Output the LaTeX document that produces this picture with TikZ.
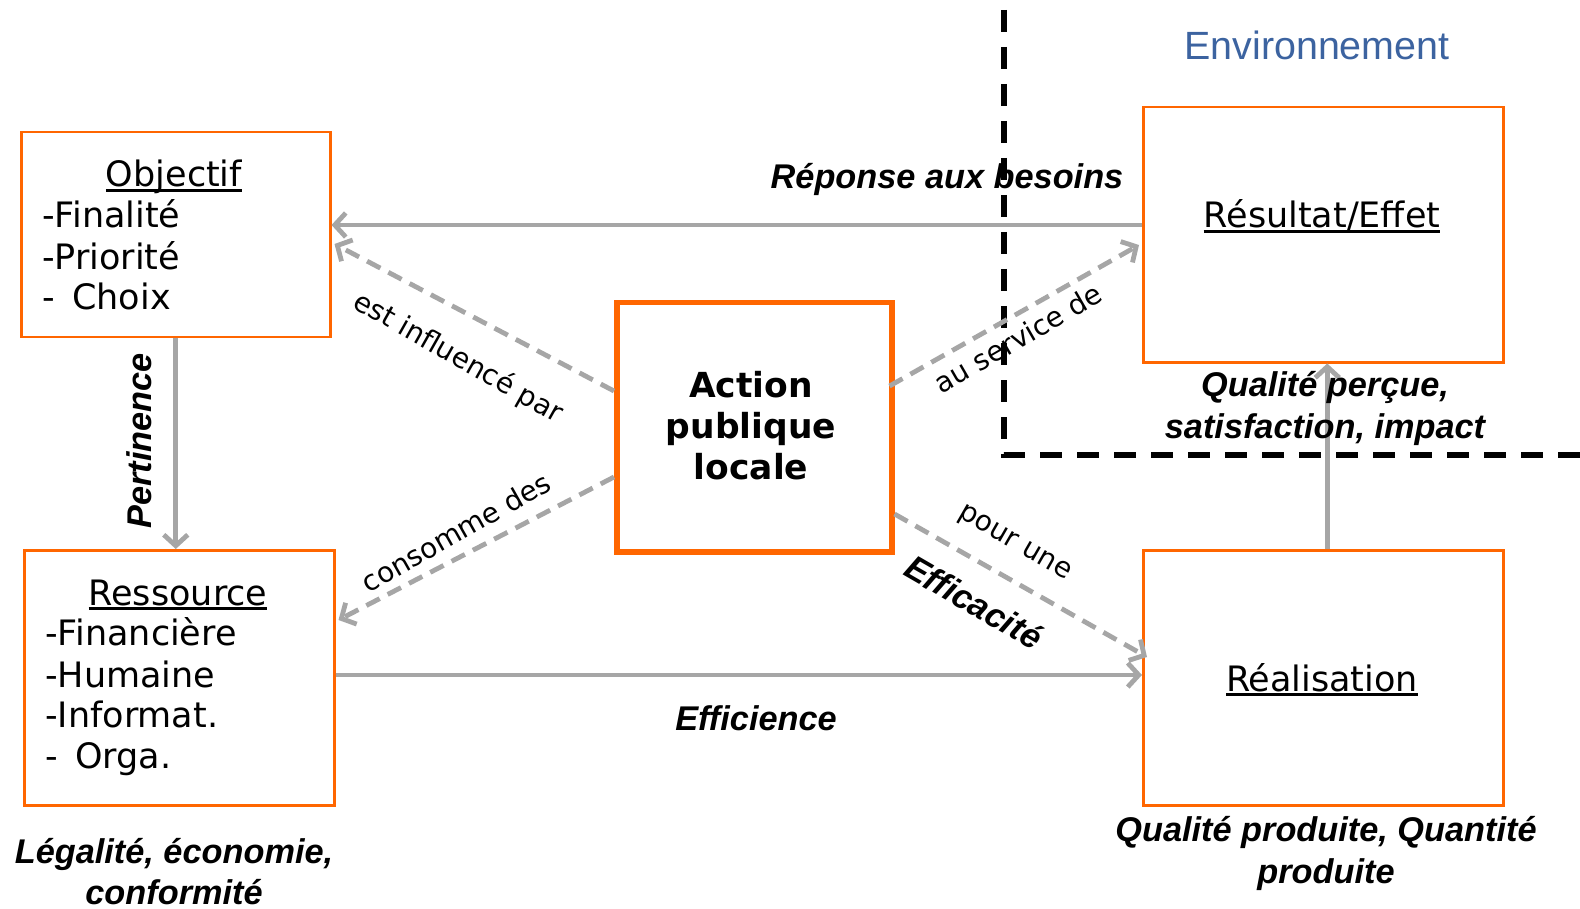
\documentclass[tikz,border=0pt]{standalone}
\usepackage{fontspec}
\setmainfont{DejaVu Sans}
\newfontfamily\arial{Liberation Sans}
\usetikzlibrary{arrows.meta}
\definecolor{orng}{RGB}{255,102,0}
\definecolor{gry}{RGB}{166,166,166}
\definecolor{envblue}{RGB}{60,99,160}
\newcommand\myul[1]{\setbox0\hbox{#1}\rlap{\rule[-0.13em]{\wd0}{0.065em}}\box0}
\begin{document}
\begin{tikzpicture}[x=1pt,y=-1pt,
  box/.style={draw=orng, line width=2.5pt, inner sep=0pt, anchor=north west},
  txt/.style={inner sep=0pt, anchor=base west, font=\fontsize{35}{40}\selectfont},
  ttl/.style={inner sep=0pt, anchor=base, font=\fontsize{35}{40}\selectfont},
  lbl/.style={inner sep=0pt, anchor=base, font=\arial\bfseries\itshape\fontsize{34.3}{40}\selectfont},
  rlbl/.style={inner sep=0pt, anchor=center, font=\fontsize{28}{33}\selectfont},
  arr/.style={draw=gry, line width=4.8pt, -{Straight Barb[length=11pt,width=24pt]}},
  darr/.style={arr, dash pattern=on 15pt off 9pt},
  env/.style={draw=black, line width=5.5pt, dash pattern=on 22pt off 15pt}
]
\useasboundingbox (0,0) rectangle (1580,909);

% boxes
\node[box, minimum width=309pt, minimum height=205pt] (obj) at (20,131) {};
\node[box, minimum width=310pt, minimum height=255pt] (ress) at (23,549) {};
\node[box, line width=5.5pt, minimum width=275pt, minimum height=249pt] (act) at (614,300) {};
\node[box, minimum width=360pt, minimum height=255pt] (res) at (1142,106) {};
\node[box, minimum width=360pt, minimum height=255pt] (rea) at (1142,549) {};

% environment boundary
\coordinate (e1) at (1004,10);
\coordinate (e2) at (1004,455);
\coordinate (e3) at (1580,455);
\draw[env] (e1) -- (e2) -- (e3);
\node[inner sep=0pt, anchor=base, font=\arial\fontsize{39.4}{45}\selectfont, text=envblue] (envt) at (1317,60) {Environnement};

% box texts
\node[ttl] (tobj) at (174,187) {\myul{Objectif}};
\node[txt] (o1) at (42,228) {-Finalité};
\node[txt] (o2) at (42,270) {-Priorité};
\node[txt] (o3) at (42,310) {-\hspace{0.5em}Choix};

\node[ttl] (tress) at (178,605) {\myul{Ressource}};
\node[txt] (r1) at (45,645) {-Financière};
\node[txt] (r2) at (45,687) {-Humaine};
\node[txt] (r3) at (45,727) {-Informat.};
\node[txt] (r4) at (45,768) {-\hspace{0.5em}Orga.};

\node[inner sep=0pt, align=center, font=\bfseries\fontsize{34.5}{41}\selectfont] (tact) at (751,426) {Action\\publique\\locale};

\node[ttl] (tres) at (1322,228) {\myul{Résultat/Effet}};
\node[ttl] (trea) at (1322,691) {\myul{Réalisation}};

% connectors
\draw[arr] (res.west |- 0,225) -- (obj.east |- 0,225);
\draw[arr] (obj.south) -- (obj.south |- ress.north);
\draw[arr] (ress.east |- 0,675) -- (rea.west |- 0,675);
\draw[arr] ([xshift=4pt]rea.north) -- ([xshift=4pt]res.south);
\draw[darr] (act.west |- 0,391) -- ([xshift=3pt]obj.east |- 0,244);
\draw[darr] (act.west |- 0,477) -- ([xshift=3pt]ress.east |- 0,620);
\draw[darr] ([xshift=-5pt]act.east |- 0,386) -- ([xshift=-3pt]res.west |- 0,245);
\draw[darr] (act.east |- 0,514) -- ([xshift=5pt]rea.west |- 0,657);

% labels
\node[lbl] (l1) at (947,189) {Réponse aux besoins};
\node[lbl] (l2) at (756,730) {Efficience};
\node[lbl, anchor=center, rotate=90] (l3) at (139,441) {Pertinence};
\node[lbl] (l4a) at (1325,396) {Qualité perçue,};
\node[lbl] (l4b) at (1325,438) {satisfaction, impact};
\node[lbl] (l5a) at (1326,841) {Qualité produite, Quantité};
\node[lbl] (l5b) at (1326,883) {produite};
\node[lbl] (l6a) at (174,863) {Légalité, économie,};
\node[lbl] (l6b) at (174,904) {conformité};
\node[lbl, anchor=center, rotate=-30] (l7) at (974,602) {Efficacité};

\node[rlbl, rotate=-29.5] (m1) at (458,358) {est influencé par};
\node[rlbl, rotate=29.5] (m2) at (456,532) {consomme des};
\node[rlbl, rotate=30] (m3) at (1018,338) {au service de};
\node[rlbl, rotate=-30] (m4) at (1014,544) {pour une};
\end{tikzpicture}
\end{document}
